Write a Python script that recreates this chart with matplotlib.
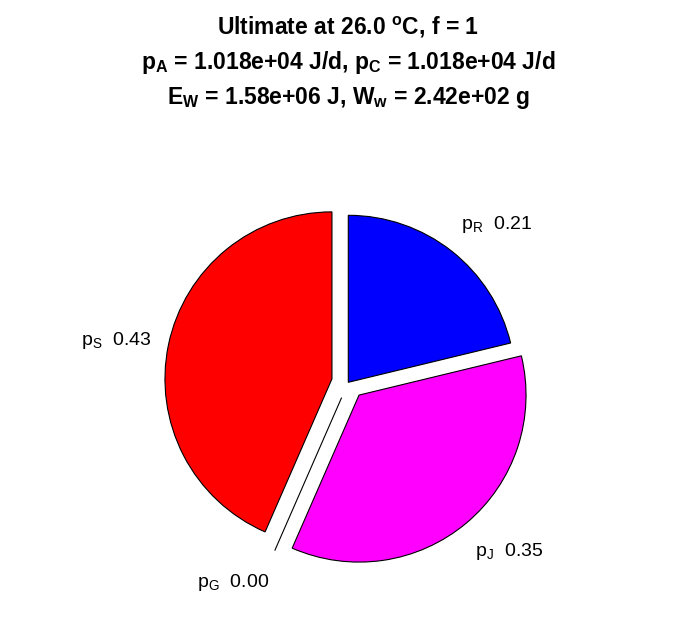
import matplotlib
matplotlib.use("Agg")
import matplotlib.pyplot as plt
from matplotlib.transforms import offset_copy

# ---- data ----
names = ["R", "J", "G", "S"]
fractions = [0.212, 0.353, 0.0, 0.434]
colors = ["#0000ff", "#ff00ff", "#00ff00", "#ff0000"]
explode = [0.0, 0.1, 0.1, 0.1]
title_lines = [
    r"Ultimate at 26.0 $\mathregular{^o}$C, f = 1",
    r"$\mathregular{p_A}$ = 1.018e+04 J/d, $\mathregular{p_C}$ = 1.018e+04 J/d",
    r"$\mathregular{E_W}$ = 1.58e+06 J, $\mathregular{W_w}$ = 2.42e+02 g",
]

W, H, DPI = 696, 618, 100
fig = plt.figure(figsize=(W / DPI, H / DPI), dpi=DPI)
ax = fig.add_axes([0, 0, 1, 1])

labels = [r"$\mathregular{p_%s}$  %.2f" % (n, v) for n, v in zip(names, fractions)]
wedges, texts = ax.pie(
    fractions, explode=explode, colors=colors, labels=labels,
    startangle=90, counterclock=False, normalize=True, labeldistance=1.2,
    wedgeprops=dict(edgecolor="black", linewidth=0.8),
    textprops=dict(family="Liberation Sans", fontsize=14),
)

# small pixel nudges of the labels (MATLAB-style placement)
nudges = [(-11, 0), (-13, -3), (8, -1), (16, -3)]
for t, (dx, dy) in zip(texts, nudges):
    t.set_transform(offset_copy(ax.transData, fig=fig, x=dx, y=dy, units="dots"))

# map data units to pixels: pie centre at (348.3, 382.3) px, radius 167 px
cx, cy, rpx = 348.3, 382.3, 167.0
ax.set_xlim(-cx / rpx, (W - cx) / rpx)
ax.set_ylim(-(H - cy) / rpx, cy / rpx)
ax.set_aspect("auto")
ax.axis("off")

for line, yb in zip(title_lines, [34, 69, 104]):
    fig.text(0.5, 1 - yb / H, line, ha="center", va="baseline",
             family="Liberation Sans", fontweight="bold", fontsize=16.5)

fig.savefig("out.png", dpi=DPI, facecolor="white")
